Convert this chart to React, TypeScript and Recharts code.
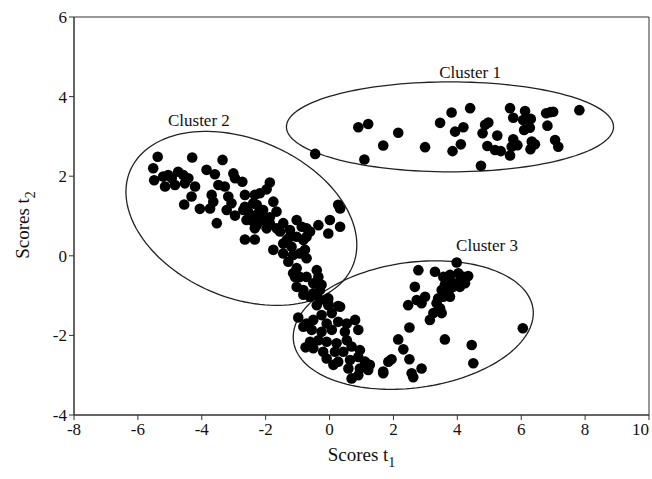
import React from "react";
import { ScatterChart, Scatter, XAxis, YAxis, ReferenceArea, ReferenceDot } from "recharts";

const FONT = "'Liberation Serif', 'Times New Roman', serif";

const X_TICKS = [-8, -6, -4, -2, 0, 2, 4, 6, 8, 10];
const Y_TICKS = [-4, -2, 0, 2, 4, 6];

// score pairs (t1, t2)
const cluster1: [number, number][] = [
  [-0.45, 2.56], [0.9, 3.23], [1.21, 3.31], [1.09, 2.42], [1.68, 2.77], [2.15, 3.09],
  [2.99, 2.73], [3.46, 3.34], [3.82, 3.6], [3.93, 3.12], [4.19, 3.23], [3.85, 2.63],
  [4.11, 2.8], [4.4, 3.71], [4.74, 2.26], [4.87, 3.29], [4.97, 3.35], [4.79, 3.08],
  [5.25, 3.02], [4.94, 2.76], [5.18, 2.66], [5.36, 2.63], [5.65, 3.71], [5.75, 3.47],
  [6.12, 3.64], [6.06, 3.41], [6.3, 3.44], [6.27, 3.22], [6.09, 3.16], [5.75, 2.93],
  [5.88, 2.78], [5.7, 2.74], [5.65, 2.52], [6.33, 2.87], [6.29, 2.68], [6.43, 2.8],
  [6.78, 3.58], [6.92, 3.61], [7.0, 3.62], [6.82, 3.27], [7.06, 2.91], [7.16, 2.74],
  [7.82, 3.66],
];

const cluster2: [number, number][] = [
  [-5.38, 2.49], [-4.3, 2.47], [-3.35, 2.41], [-5.52, 2.2], [-5.49, 1.9], [-5.21, 1.99],
  [-5.05, 2.03], [-4.94, 1.95], [-4.74, 2.11], [-4.58, 2.03], [-5.15, 1.74], [-4.84, 1.78],
  [-4.53, 1.82], [-4.42, 1.95], [-4.21, 1.74], [-3.85, 2.16], [-3.59, 2.05], [-3.01, 2.07],
  [-2.96, 1.95], [-2.73, 1.86], [-3.48, 1.78], [-3.28, 1.74], [-4.32, 1.49], [-4.55, 1.29],
  [-4.06, 1.18], [-3.69, 1.53], [-3.64, 1.36], [-3.74, 1.19], [-3.53, 0.82], [-3.17, 1.49],
  [-3.07, 1.32], [-3.22, 1.15], [-2.96, 1.01], [-2.65, 1.53], [-2.65, 1.23], [-2.55, 1.11],
  [-2.6, 0.9], [-2.34, 1.53], [-2.39, 0.86], [-2.28, 1.03], [-2.34, 0.69],
  [-1.87, 1.84], [-1.97, 1.67], [-2.18, 1.57], [-2.28, 1.28], [-2.08, 1.15], [-1.76, 1.36],
  [-1.66, 1.11], [-1.87, 0.97], [-2.49, 0.94], [-2.28, 0.77], [-2.65, 0.41], [-2.34, 0.41],
  [-2.08, 0.9], [-1.97, 0.69], [-1.45, 0.82], [-1.03, 0.9], [-1.24, 0.65], [-1.55, 0.61],
  [-1.76, 0.15], [-1.34, 0.4], [-1.03, 0.48], [-0.82, 0.4], [-0.72, 0.69], [-0.61, 0.61],
  [-0.35, 0.77], [0.01, 0.9], [0.33, 0.73], [-0.04, 0.56], [0.33, 1.19], [0.27, 1.28],
  [-1.45, 0.06], [-1.19, 0.23], [-0.93, 0.06], [-0.77, 0.15], [-1.29, -0.15], [-1.03, -0.31],
  [-1.08, -0.53], [-0.72, -0.53], [-0.4, -0.36], [-1.03, -0.78], [-0.82, -0.86], [-0.51, -0.69],
  [-0.25, -0.73], [-0.61, -1.03], [-0.3, -1.11], [-0.04, -1.24], [0.27, -1.26],
  [-2.7, 1.15], [-2.39, 1.32], [-1.87, 0.82], [-1.66, 0.69], [-0.87, 0.73], [-1.45, 0.31],
  [-1.24, 0.48], [-0.72, 0.48], [-1.14, 0.02], [-0.72, -0.06], [-0.93, -0.53], [-0.35, -0.53],
  [-0.82, -0.98], [-0.51, -0.94], [-0.3, -0.86], [-0.04, -1.07], [-1.14, -0.44],
];

const cluster3: [number, number][] = [
  [-0.4, -0.98], [-0.4, -1.24], [-0.04, -1.19], [0.33, -1.28], [-0.25, -1.49], [0.07, -1.44],
  [-0.72, -1.7], [-0.51, -1.61], [-0.09, -1.7], [0.27, -1.66], [0.54, -1.7], [0.8, -1.61],
  [-0.82, -1.78], [-0.56, -1.86], [-0.25, -1.91], [0.07, -1.86], [0.48, -1.91], [0.9, -1.86],
  [-0.61, -2.16], [-0.35, -2.12], [-0.09, -2.16], [0.22, -2.2], [0.54, -2.12], [0.69, -2.28],
  [-0.51, -2.32], [-0.2, -2.41], [0.17, -2.41], [0.43, -2.41], [0.95, -2.37], [-0.09, -2.58],
  [0.27, -2.66], [0.64, -2.62], [0.9, -2.54], [1.11, -2.66], [1.26, -2.74], [0.12, -2.74],
  [0.59, -2.83], [0.95, -2.83], [1.21, -2.87], [0.69, -3.08], [0.9, -3.0], [1.68, -2.91],
  [1.84, -2.66], [-0.98, -1.55], [-0.75, -2.3],
  [3.98, -0.17], [2.78, -0.36], [3.3, -0.4], [3.56, -0.53], [3.77, -0.48], [4.03, -0.44],
  [4.19, -0.53], [4.34, -0.51], [3.82, -0.65], [4.08, -0.65], [4.24, -0.69], [3.61, -0.73],
  [3.87, -0.78], [4.08, -0.78], [3.51, -0.86], [3.72, -0.9], [3.56, -1.03], [3.77, -1.03],
  [3.4, -1.07], [2.67, -0.78], [2.99, -1.03], [2.73, -1.11], [2.88, -1.19], [2.46, -1.24],
  [3.35, -1.19], [3.46, -1.32], [3.25, -1.44], [3.51, -1.44], [3.14, -1.61], [2.5, -1.8],
  [3.61, -2.1], [2.15, -2.1], [2.31, -2.35], [1.94, -2.6], [2.5, -2.6], [2.88, -2.83],
  [2.57, -2.95], [2.62, -3.05], [1.68, -2.95], [4.45, -2.24], [4.5, -2.7], [6.05, -1.82],
];

// confidence ellipses: centre plus two conjugate semi-axis vectors, in score units
const ELLIPSES = [
  { id: "e1", cx: 3.77, cy: 3.24, u: [5.12, 0], v: [0, 1.13] },
  { id: "e2", cx: -2.76, cy: 0.94, u: [3.478, -1.207], v: [-0.982, -1.822] },
  { id: "e3", cx: 2.62, cy: -1.74, u: [3.748, 0.412], v: [0.267, -1.561] },
];

const CLUSTER_LABELS = [
  { text: "Cluster 1", x: 4.4, y: 4.62 },
  { text: "Cluster 2", x: -4.09, y: 3.41 },
  { text: "Cluster 3", x: 4.93, y: 0.27 },
];

const toPoints = (arr: [number, number][]) => arr.map(([x, y]) => ({ x, y }));

const outline = (e: (typeof ELLIPSES)[number], steps = 144) =>
  Array.from({ length: steps + 1 }, (_, i) => {
    const t = (i / steps) * Math.PI * 2;
    return {
      x: e.cx + e.u[0] * Math.cos(t) + e.v[0] * Math.sin(t),
      y: e.cy + e.u[1] * Math.cos(t) + e.v[1] * Math.sin(t),
    };
  });

const Dot = (p: any) => <circle cx={p.cx} cy={p.cy} r={5.3} fill="#000" />;

const XTick = ({ x, y, payload }: any) => {
  const last = payload.value === 10;
  return (
    <text x={x} y={y} dy={13} textAnchor={last ? "end" : "middle"} fontFamily={FONT} fontSize={17} fill="#111">
      {payload.value}
    </text>
  );
};

const YTick = ({ x, y, payload }: any) => (
  <text x={x} y={y} dy={6} textAnchor="end" fontFamily={FONT} fontSize={17} fill="#111">
    {payload.value}
  </text>
);

const XLabel = ({ viewBox }: any) => (
  <text x={viewBox.x + viewBox.width / 2} y={viewBox.y + 46} textAnchor="middle" fontFamily={FONT} fontSize={19} fill="#111">
    Scores t<tspan fontSize={14} dy={6}>1</tspan>
  </text>
);

const YLabel = ({ viewBox }: any) => {
  const cx = 29;
  const cy = viewBox.y + viewBox.height / 2 + 9;
  return (
    <text x={cx} y={cy} transform={`rotate(-90 ${cx} ${cy})`} textAnchor="middle" fontFamily={FONT} fontSize={19} fill="#111">
      Scores t<tspan fontSize={14} dy={6}>2</tspan>
    </text>
  );
};

export default function App() {
  const axisLine = { stroke: "#333", strokeWidth: 1 };
  return (
    <div style={{ position: "absolute", left: 0, top: 0, background: "#fff" }}>
      <ScatterChart width={652} height={479} margin={{ top: 17, right: 3, bottom: 24, left: 24 }}>
        <XAxis
          type="number"
          dataKey="x"
          domain={[-8, 10]}
          ticks={X_TICKS}
          interval={0}
          height={40}
          axisLine={axisLine}
          tickLine={axisLine}
          tickSize={5}
          tick={<XTick />}
          label={{ content: <XLabel /> }}
        />
        <YAxis
          type="number"
          dataKey="y"
          domain={[-4, 6]}
          ticks={Y_TICKS}
          interval={0}
          width={50}
          axisLine={axisLine}
          tickLine={axisLine}
          tickSize={5}
          tick={<YTick />}
          label={{ content: <YLabel /> }}
        />
        <ReferenceArea x1={-8} x2={10} y1={-4} y2={6} fill="none" stroke="#333" strokeWidth={1} />
        {ELLIPSES.map((e) => (
          <Scatter
            key={e.id}
            data={outline(e)}
            line={{ stroke: "#222", strokeWidth: 1.3 }}
            lineType="joint"
            shape={() => <g />}
            isAnimationActive={false}
          />
        ))}
        <Scatter data={toPoints(cluster1)} shape={<Dot />} isAnimationActive={false} />
        <Scatter data={toPoints(cluster2)} shape={<Dot />} isAnimationActive={false} />
        <Scatter data={toPoints(cluster3)} shape={<Dot />} isAnimationActive={false} />
        {CLUSTER_LABELS.map((l) => (
          <ReferenceDot
            key={l.text}
            x={l.x}
            y={l.y}
            r={0}
            fill="none"
            stroke="none"
            label={{ value: l.text, position: "center", fill: "#111", fontSize: 17, fontFamily: FONT }}
          />
        ))}
      </ScatterChart>
    </div>
  );
}
